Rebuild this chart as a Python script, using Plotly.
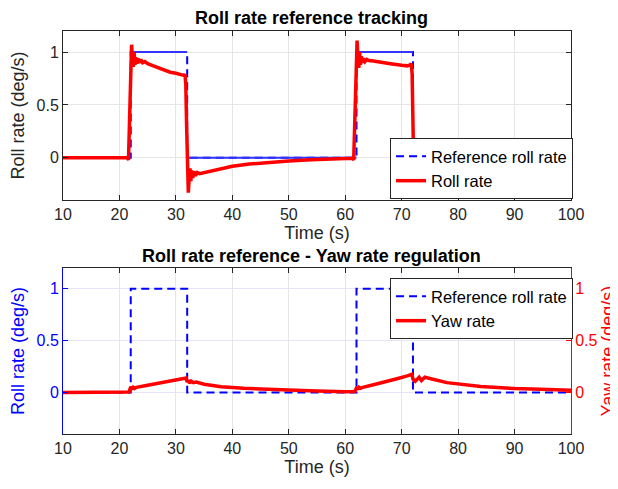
import plotly.graph_objects as go

# Reference roll rate (step commands)
ref_t = [10, 22, 22, 32, 32, 62, 62, 72, 72, 100]
ref_v = [0, 0, 1, 1, 0, 0, 1, 1, 0, 0]

# Roll rate response (top plot)
roll_t = [10, 21.4, 21.6, 21.75, 21.9, 22.05, 22.15, 22.3, 22.45, 22.6, 22.75, 22.9, 23.1, 23.3, 23.5,
          23.8, 24.1, 24.5, 25, 26, 27, 28, 29, 30, 31, 31.4, 31.6, 31.75, 31.9, 32.05, 32.2, 32.35,
          32.5, 32.65, 32.8, 33.0, 33.2, 33.5, 33.8, 34.2, 35, 36, 38, 40, 43, 46, 50, 54, 58, 61.3,
          61.5, 61.65, 61.8, 61.95, 62.1, 62.25, 62.4, 62.55, 62.7, 62.85, 63.0, 63.2, 63.5, 63.8, 64.2,
          65, 66, 68, 70, 71, 71.5, 71.7, 71.85, 71.95, 72.05, 72.2, 72.35, 72.5, 72.65, 72.8, 73.0,
          73.3, 73.7, 74.2, 75, 77, 80, 85, 90, 95, 100]
roll_v = [0, 0, -0.02, 0.3, 0.75, 1.0, 1.07, 0.95, 0.86, 1.0, 0.88, 0.95, 0.89, 0.94, 0.9,
          0.93, 0.9, 0.91, 0.89, 0.87, 0.85, 0.83, 0.81, 0.8, 0.785, 0.78, 0.79, 0.7, 0.3, -0.1, -0.33, -0.2,
          -0.1, -0.22, -0.12, -0.19, -0.13, -0.17, -0.14, -0.15, -0.14, -0.125, -0.1, -0.08, -0.06, -0.045, -0.03, -0.02, -0.01, -0.005,
          -0.02, 0.3, 0.75, 1.0, 1.11, 0.95, 0.85, 1.0, 0.88, 0.96, 0.9, 0.94, 0.91, 0.93, 0.92,
          0.915, 0.905, 0.89, 0.875, 0.87, 0.88, 0.89, 0.8, 0.4, 0.0, -0.29, -0.2, -0.1, -0.22, -0.12, -0.18,
          -0.13, -0.16, -0.14, -0.13, -0.11, -0.08, -0.05, -0.03, -0.02, -0.01]

# Yaw rate response (bottom plot)
yaw_t = [10, 21.5, 21.7, 21.9, 22.05, 22.25, 22.45, 22.7, 23, 25, 27, 29, 31, 31.6, 31.8, 32.0, 32.2,
         32.4, 32.7, 33.1, 33.6, 35, 38, 42, 46, 50, 55, 60, 61.5, 61.7, 61.9, 62.05, 62.25, 62.45,
         62.7, 63.1, 65, 67, 69, 71, 71.6, 71.8, 72.0, 72.4, 72.8, 73.1, 73.5, 74.1, 75, 78, 84, 90, 96, 100]
yaw_v = [0, 0, 0.005, 0.04, 0.055, 0.03, 0.05, 0.04, 0.05, 0.07, 0.09, 0.11, 0.127, 0.135, 0.14, 0.1, 0.12,
         0.09, 0.11, 0.095, 0.1, 0.08, 0.055, 0.04, 0.03, 0.022, 0.014, 0.008, 0.006, 0.01, 0.035, 0.055, 0.03, 0.05,
         0.04, 0.05, 0.075, 0.1, 0.13, 0.16, 0.17, 0.175, 0.13, 0.108, 0.13, 0.147, 0.115, 0.148, 0.135, 0.095, 0.058, 0.038, 0.028, 0.022]

x_ticks = [10, 20, 30, 40, 50, 60, 70, 80, 90, 100]
y_ticks = [0, 0.5, 1]

FONT = "Liberation Sans, Arial, Helvetica, sans-serif"
DARK = "#262626"

# horizontal parts of the reference (MATLAB renders them solid in top plot)
seg_x, seg_y = [], []
for i in range(len(ref_t) - 1):
    if ref_v[i] == ref_v[i + 1]:
        seg_x += [ref_t[i], ref_t[i + 1], None]
        seg_y += [ref_v[i], ref_v[i + 1], None]

fig = go.Figure()
fig.add_trace(go.Scatter(x=ref_t, y=ref_v, mode="lines", name="Reference roll rate",
                         line=dict(color="#0000ff", width=2, dash="8px,5px"),
                         xaxis="x", yaxis="y", legend="legend"))
fig.add_trace(go.Scatter(x=seg_x, y=seg_y, mode="lines", showlegend=False,
                         line=dict(color="#3333ff", width=2), xaxis="x", yaxis="y"))
fig.add_trace(go.Scatter(x=roll_t, y=roll_v, mode="lines", name="Roll rate",
                         line=dict(color="#ff0000", width=3.5),
                         xaxis="x", yaxis="y", legend="legend"))

fig.add_trace(go.Scatter(x=ref_t, y=ref_v, mode="lines", name="Reference roll rate",
                         line=dict(color="#0000ff", width=2, dash="8px,5px"),
                         xaxis="x2", yaxis="y2", legend="legend2"))
fig.add_trace(go.Scatter(x=yaw_t, y=yaw_v, mode="lines", name="Yaw rate",
                         line=dict(color="#ff0000", width=3.5),
                         xaxis="x2", yaxis="y3", legend="legend2"))

top_dom = [(434 - 200) / 403, 1.0]
bot_dom = [0.0, (434 - 268) / 403]

common_x = dict(range=[10, 100], tickvals=x_ticks, ticks="inside", ticklen=5, showline=True,
                mirror="ticks", linecolor=DARK, linewidth=1, tickcolor=DARK, gridcolor="#e6e6e6",
                zeroline=False, automargin=False, tickfont=dict(size=16, color=DARK, family=FONT),
                title=dict(text="Time (s)", font=dict(size=18, color=DARK, family=FONT), standoff=4))

legend_common = dict(xanchor="right", yanchor="top", bgcolor="white", bordercolor="#262626",
                     borderwidth=1, font=dict(size=16.5, color="black", family=FONT),
                     tracegroupgap=0)

# page body has an 8px margin, so the figure is sized/offset to compensate
fig.update_layout(
    width=610, height=481,
    margin=dict(l=55, r=47, t=23, b=55, autoexpand=False),
    paper_bgcolor="white", plot_bgcolor="white",
    font=dict(family=FONT),
    xaxis=dict(domain=[0, 1], anchor="y", **common_x),
    xaxis2=dict(domain=[0, 1], anchor="y2", **common_x),
    yaxis=dict(domain=top_dom, anchor="x", range=[-0.4, 1.2], tickvals=y_ticks, ticks="inside",
               ticklen=5, showline=True, mirror="ticks", linecolor=DARK, tickcolor=DARK,
               gridcolor="#e6e6e6", zeroline=False, automargin=False,
               tickfont=dict(size=16, color=DARK, family=FONT),
               title=dict(text="Roll rate (deg/s)", font=dict(size=18, color=DARK, family=FONT), standoff=8)),
    yaxis2=dict(domain=bot_dom, anchor="x2", range=[-0.4, 1.2], tickvals=y_ticks, ticks="inside",
                ticklen=5, showline=True, mirror=False, linecolor="#0000ff", tickcolor="#0000ff",
                gridcolor="#e4e4fa", zeroline=False, automargin=False,
                tickfont=dict(size=16, color="#0000ff", family=FONT),
                title=dict(text="Roll rate (deg/s)", font=dict(size=18, color="#0000ff", family=FONT), standoff=8)),
    yaxis3=dict(overlaying="y2", side="right", anchor="x2", range=[-0.4, 1.2], tickvals=y_ticks,
                ticks="inside", ticklen=5, showline=True, linecolor="#ff0000", tickcolor="#ff0000",
                showgrid=False, zeroline=False, automargin=False,
                tickfont=dict(size=16, color="#ff0000", family=FONT),
                title=dict(text="Yaw rate (deg/s)", font=dict(size=18, color="#ff0000", family=FONT), standoff=1)),
    legend=dict(x=1.004, y=(434 - 138) / 403, **legend_common),
    legend2=dict(x=1.004, y=(434 - 278) / 403, **legend_common),
    annotations=[
        dict(text="<b>Roll rate reference tracking</b>", x=0.49, y=(434 - 18) / 403,
             xref="paper", yref="paper", showarrow=False, yanchor="middle",
             font=dict(size=18, color="black", family=FONT)),
        dict(text="<b>Roll rate reference - Yaw rate regulation</b>", x=0.49, y=(434 - 256) / 403,
             xref="paper", yref="paper", showarrow=False, yanchor="middle",
             font=dict(size=18, color="black", family=FONT)),
    ],
)

fig.write_html("out.html")
